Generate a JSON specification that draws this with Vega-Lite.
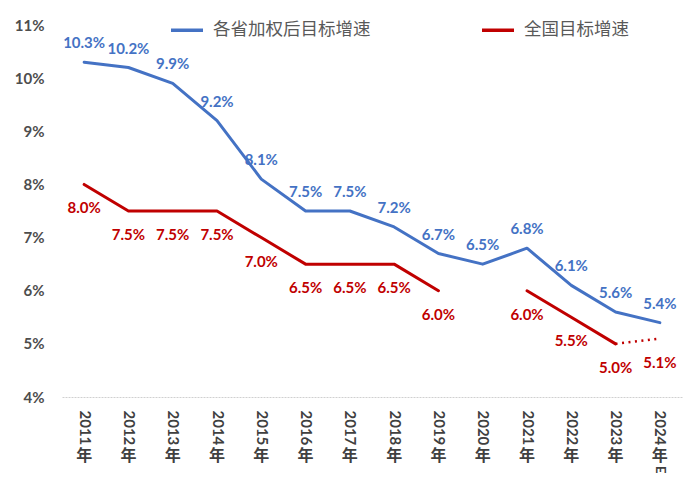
{
  "$schema": "https://vega.github.io/schema/vega-lite/v6.json",
  "width": 620,
  "height": 372,
  "autosize": {"type": "none"},
  "padding": {"left": 62, "top": 25, "right": 12, "bottom": 94},
  "background": "white",
  "config": {"view": {"stroke": null}, "font": "Lato"},
  "data": {
    "values": [
      {"year": "2011年", "series": "各省加权后目标增速", "seg": "p", "value": 0.103},
      {"year": "2012年", "series": "各省加权后目标增速", "seg": "p", "value": 0.102},
      {"year": "2013年", "series": "各省加权后目标增速", "seg": "p", "value": 0.099},
      {"year": "2014年", "series": "各省加权后目标增速", "seg": "p", "value": 0.092},
      {"year": "2015年", "series": "各省加权后目标增速", "seg": "p", "value": 0.081},
      {"year": "2016年", "series": "各省加权后目标增速", "seg": "p", "value": 0.075},
      {"year": "2017年", "series": "各省加权后目标增速", "seg": "p", "value": 0.075},
      {"year": "2018年", "series": "各省加权后目标增速", "seg": "p", "value": 0.072},
      {"year": "2019年", "series": "各省加权后目标增速", "seg": "p", "value": 0.067},
      {"year": "2020年", "series": "各省加权后目标增速", "seg": "p", "value": 0.065},
      {"year": "2021年", "series": "各省加权后目标增速", "seg": "p", "value": 0.068},
      {"year": "2022年", "series": "各省加权后目标增速", "seg": "p", "value": 0.061},
      {"year": "2023年", "series": "各省加权后目标增速", "seg": "p", "value": 0.056},
      {"year": "2024年E", "series": "各省加权后目标增速", "seg": "p", "value": 0.054},
      {"year": "2011年", "series": "全国目标增速", "seg": "a", "value": 0.080},
      {"year": "2012年", "series": "全国目标增速", "seg": "a", "value": 0.075},
      {"year": "2013年", "series": "全国目标增速", "seg": "a", "value": 0.075},
      {"year": "2014年", "series": "全国目标增速", "seg": "a", "value": 0.075},
      {"year": "2015年", "series": "全国目标增速", "seg": "a", "value": 0.070},
      {"year": "2016年", "series": "全国目标增速", "seg": "a", "value": 0.065},
      {"year": "2017年", "series": "全国目标增速", "seg": "a", "value": 0.065},
      {"year": "2018年", "series": "全国目标增速", "seg": "a", "value": 0.065},
      {"year": "2019年", "series": "全国目标增速", "seg": "a", "value": 0.060},
      {"year": "2021年", "series": "全国目标增速", "seg": "b", "value": 0.060},
      {"year": "2022年", "series": "全国目标增速", "seg": "b", "value": 0.055},
      {"year": "2023年", "series": "全国目标增速", "seg": "b", "value": 0.050},
      {"year": "2024年E", "series": "全国目标增速", "seg": "e", "value": 0.051}
    ]
  },
  "encoding": {
    "x": {
      "field": "year",
      "type": "nominal",
      "scale": {
        "type": "point",
        "padding": 0.5,
        "domain": ["2011年", "2012年", "2013年", "2014年", "2015年", "2016年", "2017年", "2018年", "2019年", "2020年", "2021年", "2022年", "2023年", "2024年E"]
      },
      "axis": {
        "title": null,
        "labelExpr": "slice(datum.label, 0, 4)",
        "labelAngle": 90,
        "labelAlign": "left",
        "labelBaseline": "middle",
        "labelPadding": 13,
        "ticks": false,
        "labelFont": "Lato",
        "labelFontWeight": "bold",
        "labelFontSize": 15,
        "labelColor": "#404040",
        "domainColor": "#d0d0d0",
        "domainDash": [2, 1],
        "domainWidth": 1
      }
    },
    "y": {
      "field": "value",
      "type": "quantitative",
      "scale": {"domain": [0.04, 0.11], "nice": false, "zero": false},
      "axis": {
        "title": null,
        "values": [0.04, 0.05, 0.06, 0.07, 0.08, 0.09, 0.10, 0.11],
        "format": ".0%",
        "grid": false,
        "domain": false,
        "ticks": false,
        "tickSize": 0,
        "labelPadding": 18,
        "labelFont": "Lato",
        "labelFontWeight": "bold",
        "labelFontSize": 15,
        "labelColor": "#4d4d4d"
      }
    }
  },
  "layer": [
    {
      "transform": [{"filter": "datum.seg !== 'e'"}],
      "mark": {"type": "line", "strokeWidth": 3, "strokeCap": "round", "strokeJoin": "round"},
      "encoding": {
        "detail": {"field": "seg"},
        "color": {
          "field": "series",
          "type": "nominal",
          "scale": {"domain": ["各省加权后目标增速", "全国目标增速"], "range": ["#4472C4", "#C00000"]},
          "legend": {
            "orient": "none",
            "legendX": 107,
            "legendY": -13,
            "direction": "horizontal",
            "title": null,
            "padding": 0,
            "labelFont": "Noto Sans CJK SC",
            "labelFontSize": 17.5,
            "labelColor": "#595959",
            "labelOffset": 8,
            "symbolType": "stroke",
            "symbolSize": 1024,
            "symbolStrokeWidth": 3.5,
            "columnPadding": 104
          }
        }
      }
    },
    {
      "transform": [{"filter": "datum.series === '全国目标增速' && (datum.year === '2023年' || datum.year === '2024年E')"}],
      "mark": {"type": "line", "strokeWidth": 2.5, "strokeDash": [2, 4.5], "color": "#C00000"},
      "encoding": {}
    },
    {
      "transform": [{"filter": "datum.series === '各省加权后目标增速'"}],
      "mark": {"type": "text", "dy": -19, "baseline": "middle", "align": "center", "font": "Lato", "fontWeight": "bold", "fontSize": 15, "color": "#4472C4"},
      "encoding": {"text": {"field": "value", "type": "quantitative", "format": ".1%"}}
    },
    {
      "transform": [{"filter": "datum.series === '全国目标增速'"}],
      "mark": {"type": "text", "dy": 24, "baseline": "middle", "align": "center", "font": "Lato", "fontWeight": "bold", "fontSize": 15, "color": "#C00000"},
      "encoding": {"text": {"field": "value", "type": "quantitative", "format": ".1%"}}
    },
    {
      "transform": [{"filter": "datum.series === '各省加权后目标增速'"}],
      "mark": {"type": "text", "text": "年", "dy": 59, "baseline": "middle", "align": "center", "font": "Noto Sans CJK SC", "fontWeight": "bold", "fontSize": 16, "color": "#404040"},
      "encoding": {"y": {"datum": 0.04}}
    },
    {
      "transform": [{"filter": "datum.series === '各省加权后目标增速' && datum.year === '2024年E'"}],
      "mark": {"type": "text", "text": "E", "angle": 90, "dx": 69, "baseline": "middle", "align": "left", "font": "Lato", "fontWeight": "bold", "fontSize": 13, "color": "#404040"},
      "encoding": {"y": {"datum": 0.04}}
    }
  ]
}
